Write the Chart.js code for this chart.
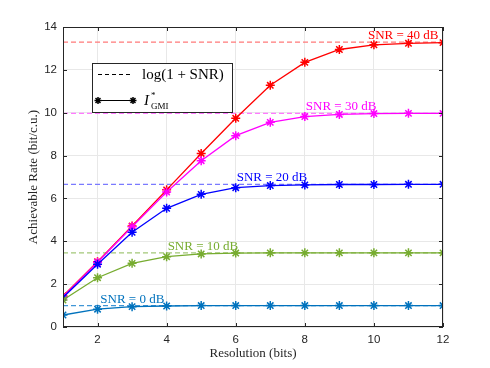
<!DOCTYPE html>
<html>
<head>
<meta charset="utf-8">
<script src="https://cdn.jsdelivr.net/npm/chart.js@4/dist/chart.umd.min.js"></script>
<style>
  html, body { margin: 0; padding: 0; background: #fff; }
  #wrap { width: 490px; height: 368px; }
</style>
</head>
<body>
<div id="wrap"><canvas id="chart" width="490" height="368"></canvas></div>
<script>
// Données
const resolution = [1, 2, 3, 4, 5, 6, 7, 8, 9, 10, 11, 12];
const snrLabels = ['SNR = 0 dB', 'SNR = 10 dB', 'SNR = 20 dB', 'SNR = 30 dB', 'SNR = 40 dB'];
const gmi0  = [0.56, 0.83, 0.95, 0.98, 1.00, 1.00, 1.00, 1.00, 1.00, 1.00, 1.00, 1.00];
const gmi10 = [1.26, 2.30, 2.97, 3.28, 3.41, 3.45, 3.46, 3.46, 3.46, 3.46, 3.46, 3.46];
const gmi20 = [1.38, 2.93, 4.42, 5.54, 6.19, 6.50, 6.60, 6.63, 6.65, 6.65, 6.66, 6.66];
const gmi30 = [1.42, 3.02, 4.68, 6.30, 7.76, 8.93, 9.55, 9.82, 9.92, 9.96, 9.97, 9.97];
const gmi40 = [1.45, 3.05, 4.71, 6.40, 8.10, 9.74, 11.28, 12.35, 12.95, 13.17, 13.24, 13.27];
const capacity = [1.00, 3.46, 6.66, 9.97, 13.29];
const labelX = [2.05, 4, 6, 8, 9.8];
const xTicks = [2, 4, 6, 8, 10, 12];
const yTicks = [0, 2, 4, 6, 8, 10, 12, 14];

const colors = ['#0072BD', '#77AC30', '#0000FF', '#FF00FF', '#FF0000'];
const dashColors = ['#4096d6', '#a3c878', '#7a7aff', '#ff7aff', '#ff7a7a'];
const series = [gmi0, gmi10, gmi20, gmi30, gmi40];

const datasets = [];
// Lignes de capacité en pointillés
capacity.forEach((c, i) => {
    datasets.push({
        data: [{x: resolution[0], y: c}, {x: resolution[resolution.length - 1], y: c}],
        borderColor: dashColors[i],
        borderWidth: 1.2,
        borderDash: [5, 3],
        pointRadius: 0,
        order: 10
    });
});
// Courbes I_GMI
series.forEach((s, i) => {
    datasets.push({
        data: resolution.map((r, k) => ({x: r, y: s[k]})),
        borderColor: colors[i],
        backgroundColor: colors[i],
        borderWidth: 1.3,
        pointStyle: 'star',
        pointRadius: 4.5,
        pointBorderWidth: 1.5,
        pointBorderColor: colors[i],
        order: 1
    });
});

const decor = {
    id: 'decor',
    afterDraw(chart) {
        const ctx = chart.ctx;
        const a = chart.chartArea;
        const xs = chart.scales.x, ys = chart.scales.y;
        ctx.save();
        // cadre
        ctx.strokeStyle = '#262626';
        ctx.lineWidth = 1;
        ctx.strokeRect(a.left + 0.5, a.top + 0.5, a.right - a.left - 1, a.bottom - a.top - 1);
        // graduations intérieures
        ctx.beginPath();
        xTicks.forEach(t => {
            const px = Math.round(xs.getPixelForValue(t)) + 0.5;
            ctx.moveTo(px, a.bottom); ctx.lineTo(px, a.bottom - 4);
            ctx.moveTo(px, a.top); ctx.lineTo(px, a.top + 4);
        });
        yTicks.forEach(t => {
            const py = Math.round(ys.getPixelForValue(t)) + 0.5;
            ctx.moveTo(a.left, py); ctx.lineTo(a.left + 4, py);
            ctx.moveTo(a.right, py); ctx.lineTo(a.right - 4, py);
        });
        ctx.stroke();

        // étiquettes SNR
        ctx.font = '13px "Liberation Serif", "DejaVu Serif", serif';
        ctx.textAlign = 'left';
        ctx.textBaseline = 'alphabetic';
        snrLabels.forEach((lab, i) => {
            ctx.fillStyle = colors[i];
            ctx.fillText(lab, xs.getPixelForValue(labelX[i]) + 1, ys.getPixelForValue(capacity[i]) - 3);
        });

        // titres des axes
        ctx.fillStyle = '#262626';
        ctx.font = '13px "Liberation Serif", "DejaVu Serif", serif';
        ctx.textAlign = 'center';
        ctx.fillText('Resolution (bits)', (a.left + a.right) / 2, 357);
        ctx.save();
        ctx.translate(37, (a.top + a.bottom) / 2);
        ctx.rotate(-Math.PI / 2);
        ctx.fillText('Achievable Rate (bit/c.u.)', 0, 0);
        ctx.restore();

        // légende
        const lx = 92, ly = 63, lw = 140, lh = 49;
        ctx.fillStyle = '#fff';
        ctx.fillRect(lx, ly, lw, lh);
        ctx.strokeStyle = '#262626';
        ctx.strokeRect(lx + 0.5, ly + 0.5, lw, lh);
        ctx.strokeStyle = '#000';
        ctx.lineWidth = 1;
        ctx.setLineDash([4, 3]);
        ctx.beginPath();
        ctx.moveTo(98, 74.5); ctx.lineTo(133, 74.5);
        ctx.stroke();
        ctx.setLineDash([]);
        ctx.beginPath();
        ctx.moveTo(98, 100.5); ctx.lineTo(133, 100.5);
        ctx.stroke();
        [98, 133].forEach(px => {
            ctx.beginPath();
            for (let k = 0; k < 4; k++) {
                const ang = k * Math.PI / 4;
                ctx.moveTo(px - 3.5 * Math.cos(ang), 100.5 - 3.5 * Math.sin(ang));
                ctx.lineTo(px + 3.5 * Math.cos(ang), 100.5 + 3.5 * Math.sin(ang));
            }
            ctx.lineWidth = 1.5;
            ctx.stroke();
        });
        ctx.fillStyle = '#000';
        ctx.textAlign = 'left';
        ctx.font = '15px "Liberation Serif", "DejaVu Serif", serif';
        ctx.fillText('log(1 + SNR)', 142, 79);
        ctx.font = 'italic 15px "Liberation Serif", "DejaVu Serif", serif';
        ctx.fillText('I', 144, 105);
        ctx.font = '9px "Liberation Serif", "DejaVu Serif", serif';
        ctx.fillText('*', 151, 98);
        ctx.fillText('GMI', 151, 109);
        ctx.restore();
    }
};

new Chart(document.getElementById('chart'), {
    type: 'line',
    data: { datasets: datasets },
    options: {
        responsive: false,
        animation: false,
        layout: { padding: { left: 0, right: 47, top: 27, bottom: 0 } },
        plugins: { legend: { display: false }, tooltip: { enabled: false } },
        scales: {
            x: {
                type: 'linear',
                min: 1, max: 12,
                afterBuildTicks: scale => { scale.ticks = xTicks.map(v => ({value: v})); },
                afterFit: scale => { scale.height = 41; },
                grid: { color: '#e8e8e8', drawTicks: false },
                border: { display: false },
                ticks: { color: '#262626', font: { family: 'Liberation Sans, Arial, sans-serif', size: 11.5 }, padding: 6, maxRotation: 0 }
            },
            y: {
                min: 0, max: 14,
                afterBuildTicks: scale => { scale.ticks = yTicks.map(v => ({value: v})); },
                afterFit: scale => { scale.width = 63; },
                grid: { color: '#e8e8e8', drawTicks: false },
                border: { display: false },
                ticks: { color: '#262626', font: { family: 'Liberation Sans, Arial, sans-serif', size: 11.5 }, padding: 6 }
            }
        }
    },
    plugins: [decor]
});
</script>
</body>
</html>
